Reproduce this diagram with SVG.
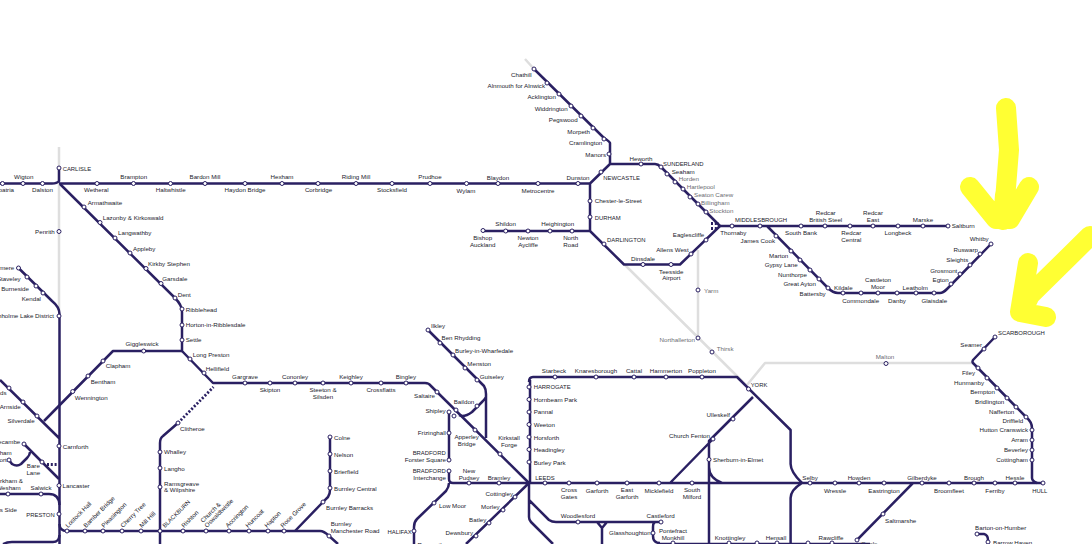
<svg xmlns="http://www.w3.org/2000/svg" width="1092" height="544" viewBox="0 0 1092 544">
<style>
text{font-family:"Liberation Sans",Arial,sans-serif;font-size:6.2px;fill:#22222c}
.e{text-anchor:end}.m{text-anchor:middle}
.c{font-size:5.9px}
text.g{fill:#6c6c72}
circle{fill:#fff;stroke:#2a2062;stroke-width:1;r:2px}
#connectors path{fill:none;stroke:#2a2062;stroke-width:2.5;stroke-linejoin:round}
#connectors path.grey{stroke:#dedede}
#connectors path.dot{stroke-width:2.8;stroke-dasharray:2 1.8}
#arrows path{fill:none;stroke:#ffff33;stroke-width:20;stroke-linecap:round;stroke-linejoin:round}
</style>
<rect width="1092" height="544" fill="#fff"/>
<g id="connectors">
<path class="grey" d="M59 147V310M525 59L534 69M625 265L747 386M698 250V338M747 385L765 363H973"/>
<path d="M0 183.500H52Q57 183.500 59 181V168M59 183.500H590V231M590 183.500L610 164V143Q609 141 604 138L534 69M610 164H655Q658 164 661 167L720 226M720 226L680 264.500H624L590 231H483"/>
<path d="M720 226H948M767 226L828 288Q833 293 838 293H940Q943 293 947 289L991 244"/>
<path d="M60 184L175 298Q182 305 182 312V351L213 383H425Q429 383 431 386L529 483"/>
<path d="M182 351H113L44 421"/>
<path d="M18.500 268L52 301Q59.500 307 59.500 314V544M0 380L59 438"/>
<path d="M24 444L59 479M30 452Q30 455 27 458L21 464Q17 467 12 464L9 460"/>
<path d="M0 494H49Q59 494 59.500 505M59.500 524Q59.500 531 67 531H320Q324 531 329 536L338 544M3 544Q7 542 12 542H53Q59 542 59.500 535"/>
<path d="M295 531L323 502L328 497Q330 494 330 490V437"/>
<path d="M160 544V443Q160 438 163 436L178 423"/>
<path class="dot" d="M178 423L213.500 387"/>
<path class="dot" d="M47 464.500H58M711 223.500H719M711 228.500H717"/>
<path d="M428 330L484 386Q486 389 486 394V438M486 397Q485 399 482 402L472 412Q467 416 462 416L459 415"/>
<path d="M449 412V460M449 471V479Q449 483 453 483H529M449 483Q449 487 446 491L417 519Q414 522 414 527V544M529 483L466 544"/>
<path d="M533 377H737L790.600 430V464Q790.600 472 802 483M530 380V483M533 377Q529 377 529 382"/>
<path d="M529 483H1043M670 483L713 439M753 397L709 441V544M709 467Q709 478 722 483M802 483Q790.600 490 790.600 498V544M913 483L857 540M659 544H870"/>
<path d="M529 483V517Q529 520 531 522L553 544M529 500L549 520Q552 522 556 522H661M597 522L602 528V544M607 522L602 528M656 522Q653 522 653 527V536Q653 543 660 543"/>
<path d="M995 337L973 360Q972 362 973 363L1026 417Q1032 422 1032 428V478Q1032 481 1037 483"/>
<path d="M977 534H984Q988 535 988 540V544"/>
</g>
<g id="n-aspatria"><circle cx="2.500" cy="183.500"/><text class="e" x="14" y="192">Aspatria</text></g>
<g id="n-wigton"><circle cx="23" cy="183.500"/><text class="m" x="23.700" y="179">Wigton</text></g>
<g id="n-dalston"><circle cx="42.500" cy="183.500"/><text class="m" x="42.500" y="192">Dalston</text></g>
<g id="n-carlisle"><circle cx="59" cy="168"/><text class="c" x="62.700" y="170.500">CARLISLE</text></g>
<g id="n-wetheral"><circle cx="97" cy="183.500"/><text class="m" x="96.300" y="192">Wetheral</text></g>
<g id="n-brampton"><circle cx="133.500" cy="183.500"/><text class="m" x="133.700" y="179">Brampton</text></g>
<g id="n-haltwhistle"><circle cx="170.500" cy="183.500"/><text class="m" x="170.700" y="192">Haltwhistle</text></g>
<g id="n-bardon-mill"><circle cx="205" cy="183.500"/><text class="m" x="205" y="179">Bardon Mill</text></g>
<g id="n-haydon-bridge"><circle cx="245" cy="183.500"/><text class="m" x="245" y="192">Haydon Bridge</text></g>
<g id="n-hexham"><circle cx="282" cy="183.500"/><text class="m" x="282" y="179">Hexham</text></g>
<g id="n-corbridge"><circle cx="318" cy="183.500"/><text class="m" x="318.500" y="192">Corbridge</text></g>
<g id="n-riding-mill"><circle cx="356" cy="183.500"/><text class="m" x="356" y="179">Riding Mill</text></g>
<g id="n-stocksfield"><circle cx="392" cy="183.500"/><text class="m" x="392" y="192">Stocksfield</text></g>
<g id="n-prudhoe"><circle cx="430" cy="183.500"/><text class="m" x="430" y="179">Prudhoe</text></g>
<g id="n-wylam"><circle cx="466.500" cy="183.500"/><text class="m" x="466" y="193">Wylam</text></g>
<g id="n-blaydon"><circle cx="498" cy="183.500"/><text class="m" x="498" y="179.500">Blaydon</text></g>
<g id="n-metrocentre"><circle cx="538" cy="183.500"/><text class="m" x="538" y="193">Metrocentre</text></g>
<g id="n-dunston"><circle cx="578" cy="183.500"/><text class="m" x="578" y="179.500">Dunston</text></g>
<g id="n-armathwaite"><circle cx="84" cy="207"/><text x="87.700" y="205">Armathwaite</text></g>
<g id="n-lazonby"><circle cx="100" cy="222.500"/><text x="102.700" y="220">Lazonby &amp; Kirkoswald</text></g>
<g id="n-langwathby"><circle cx="115" cy="238"/><text x="118" y="235">Langwathby</text></g>
<g id="n-appleby"><circle cx="130" cy="253"/><text x="133" y="251">Appleby</text></g>
<g id="n-kirkby-stephen"><circle cx="146" cy="268.500"/><text x="148" y="266">Kirkby Stephen</text></g>
<g id="n-garsdale"><circle cx="161" cy="283.500"/><text x="162.300" y="281">Garsdale</text></g>
<g id="n-dent"><circle cx="175" cy="298"/><text x="177.700" y="296.500">Dent</text></g>
<g id="n-ribblehead"><circle cx="182" cy="309"/><text x="185.700" y="311.500">Ribblehead</text></g>
<g id="n-horton"><circle cx="182" cy="325"/><text x="185.700" y="327">Horton-in-Ribblesdale</text></g>
<g id="n-settle"><circle cx="182" cy="340"/><text x="185.700" y="341.500">Settle</text></g>
<g id="n-penrith"><circle cx="59" cy="231.500"/><text class="e" x="54.700" y="233.500">Penrith</text></g>
<g id="n-windermere"><circle cx="18.500" cy="268"/><text class="e" x="14.300" y="270.300">Windermere</text></g>
<g id="n-staveley"><circle cx="27" cy="277"/><text class="e" x="20.700" y="281">Staveley</text></g>
<g id="n-burneside"><circle cx="36" cy="286"/><text class="e" x="29" y="291">Burneside</text></g>
<g id="n-kendal"><circle cx="43" cy="293"/><text class="e" x="41" y="301">Kendal</text></g>
<g id="n-oxenholme"><circle cx="59" cy="316"/><text class="e" x="54" y="318">Oxenholme Lake District</text></g>
<g id="n-giggleswick"><circle cx="143.700" cy="351"/><text class="m" x="142" y="345.500">Giggleswick</text></g>
<g id="n-clapham"><circle cx="103" cy="361"/><text x="105.700" y="368">Clapham</text></g>
<g id="n-bentham"><circle cx="88" cy="376"/><text x="90.700" y="384">Bentham</text></g>
<g id="n-wennington"><circle cx="72.700" cy="391.500"/><text x="74.700" y="399.500">Wennington</text></g>
<g id="n-grange"><circle cx="9" cy="388"/><text class="e" x="6.500" y="394.500">Grange-over-Sands</text></g>
<g id="n-arnside"><circle cx="23" cy="402"/><text class="e" x="20.700" y="409">Arnside</text></g>
<g id="n-silverdale"><circle cx="37" cy="416"/><text class="e" x="34.700" y="422.500">Silverdale</text></g>
<g id="n-carnforth"><circle cx="59" cy="446"/><text x="62.700" y="449">Carnforth</text></g>
<g id="n-morecambe"><circle cx="24" cy="444"/><text class="e" x="20.300" y="443.500">Morecambe</text></g>
<g id="n-heysham"><circle cx="9" cy="460"/><text class="e" x="11.700" y="455">Heysham</text><text class="e" x="6.700" y="462">Port</text></g>
<g id="n-bare-lane"><circle cx="42" cy="462"/><text class="m" x="33.300" y="468">Bare</text><text class="m" x="33.300" y="475">Lane</text></g>
<g id="n-lancaster"><circle cx="59" cy="485.500"/><text x="62.500" y="488">Lancaster</text></g>
<g id="n-kirkham"><circle cx="8" cy="494"/><text class="e" x="23" y="483">Kirkham &amp;</text><text class="e" x="20.700" y="489.500">Wesham</text></g>
<g id="n-salwick"><circle cx="41" cy="494"/><text class="m" x="41" y="489.500">Salwick</text></g>
<g id="n-moss-side"><text class="e" x="17" y="511.500">Moss Side</text></g>
<g id="n-preston"><circle cx="59" cy="514"/><text class="e c" x="54.700" y="516.500">PRESTON</text></g>
<g id="n-lostock-hall"><circle cx="67" cy="531"/><text transform="rotate(-45 68 528)" x="68" y="528">Lostock Hall</text></g>
<g id="n-bamber-bridge"><circle cx="85" cy="531"/><text transform="rotate(-45 86 528)" x="86" y="528">Bamber Bridge</text></g>
<g id="n-pleasington"><circle cx="103" cy="531"/><text transform="rotate(-45 104 528)" x="104" y="528">Pleasington</text></g>
<g id="n-cherry-tree"><circle cx="122" cy="531"/><text transform="rotate(-45 123 528)" x="123" y="528">Cherry Tree</text></g>
<g id="n-mill-hill"><circle cx="141" cy="531"/><text transform="rotate(-45 142 528)" x="142" y="528">Mill Hill</text></g>
<g id="n-blackburn"><circle cx="160" cy="531"/><text class="c" transform="rotate(-45 165 528)" x="165" y="528">BLACKBURN</text></g>
<g id="n-rishton"><circle cx="183" cy="531"/><text transform="rotate(-45 184 528)" x="184" y="528">Rishton</text></g>
<g id="n-church"><circle cx="206" cy="531"/><text transform="rotate(-45 203 523)" x="203" y="523">Church &amp;</text><text transform="rotate(-45 207 528)" x="207" y="528">Oswaldtwistle</text></g>
<g id="n-accrington"><circle cx="229" cy="531"/><text transform="rotate(-45 228 528)" x="228" y="528">Accrington</text></g>
<g id="n-huncoat"><circle cx="249" cy="531"/><text transform="rotate(-45 248 528)" x="248" y="528">Huncoat</text></g>
<g id="n-hapton"><circle cx="268" cy="531"/><text transform="rotate(-45 267 528)" x="267" y="528">Hapton</text></g>
<g id="n-rose-grove"><circle cx="284" cy="531"/><text transform="rotate(-45 283 528)" x="283" y="528">Rose Grove</text></g>
<g id="n-burnley-mr"><circle cx="329" cy="536"/><text x="330.700" y="526">Burnley</text><text x="330.700" y="533">Manchester Road</text></g>
<g id="n-burnley-barracks"><circle cx="323" cy="502"/><text x="326" y="509.500">Burnley Barracks</text></g>
<g id="n-burnley-central"><circle cx="330" cy="488"/><text x="334" y="490.500">Burnley Central</text></g>
<g id="n-brierfield"><circle cx="330" cy="471"/><text x="334" y="473.500">Brierfield</text></g>
<g id="n-nelson"><circle cx="330" cy="454"/><text x="334" y="456.500">Nelson</text></g>
<g id="n-colne"><circle cx="330" cy="437"/><text x="334" y="440">Colne</text></g>
<g id="n-gargrave"><circle cx="245" cy="383"/><text class="m" x="245" y="378.500">Gargrave</text></g>
<g id="n-skipton"><circle cx="270" cy="383"/><text class="m" x="270" y="392">Skipton</text></g>
<g id="n-cononley"><circle cx="295" cy="383"/><text class="m" x="295" y="378.500">Cononley</text></g>
<g id="n-steeton"><circle cx="323" cy="383"/><text class="m" x="323" y="392">Steeton &amp;</text><text class="m" x="323" y="398.500">Silsden</text></g>
<g id="n-keighley"><circle cx="351" cy="383"/><text class="m" x="351" y="378.500">Keighley</text></g>
<g id="n-crossflatts"><circle cx="381" cy="383"/><text class="m" x="381" y="392">Crossflatts</text></g>
<g id="n-bingley"><circle cx="406" cy="383"/><text class="m" x="406" y="378.500">Bingley</text></g>
<g id="n-long-preston"><circle cx="190" cy="359"/><text x="192.700" y="356.500">Long Preston</text></g>
<g id="n-hellifield"><circle cx="204" cy="373"/><text x="205.700" y="370.500">Hellifield</text></g>
<g id="n-clitheroe"><circle cx="178" cy="423"/><text x="180" y="430.500">Clitheroe</text></g>
<g id="n-whalley"><circle cx="160" cy="452"/><text x="164" y="454">Whalley</text></g>
<g id="n-langho"><circle cx="160" cy="468"/><text x="164" y="470.500">Langho</text></g>
<g id="n-ramsgreave"><circle cx="160" cy="487"/><text x="164" y="485.500">Ramsgreave</text><text x="164" y="492">&amp; Wilpshire</text></g>
<g id="n-ilkley"><circle cx="428" cy="330"/><text x="431" y="327.500">Ilkley</text></g>
<g id="n-ben-rhydding"><circle cx="440" cy="343"/><text x="441.500" y="340">Ben Rhydding</text></g>
<g id="n-burley"><circle cx="453" cy="355"/><text x="455" y="352.500">Burley-in-Wharfedale</text></g>
<g id="n-menston"><circle cx="465" cy="368"/><text x="467.300" y="365.500">Menston</text></g>
<g id="n-guiseley"><circle cx="477" cy="380"/><text x="479.700" y="378.500">Guiseley</text></g>
<g id="n-saltaire"><circle cx="437" cy="392"/><text class="e" x="435" y="397.500">Saltaire</text></g>
<g id="n-baildon"><circle cx="477" cy="406"/><text class="m" x="464" y="403.500">Baildon</text></g>
<g id="n-shipley"><circle cx="449" cy="412"/><circle cx="456" cy="410"/><circle cx="454" cy="416"/><text class="e" x="445.700" y="413">Shipley</text></g>
<g id="n-frizinghall"><circle cx="449" cy="433"/><text class="e" x="446" y="435">Frizinghall</text></g>
<g id="n-apperley"><circle cx="475" cy="430"/><text class="m" x="466.700" y="439">Apperley</text><text class="m" x="466.700" y="446">Bridge</text></g>
<g id="n-kirkstall"><circle cx="500" cy="454"/><text class="m" x="509" y="439.500">Kirkstall</text><text class="m" x="509" y="447">Forge</text></g>
<g id="n-bradford-fs"><circle cx="449" cy="460"/><text class="e c" x="445.700" y="455">BRADFORD</text><text class="e" x="446" y="462">Forster Square</text></g>
<g id="n-bradford-i"><circle cx="449" cy="471"/><text class="e c" x="445.700" y="472.500">BRADFORD</text><text class="e" x="446" y="479.500">Interchange</text></g>
<g id="n-new-pudsey"><circle cx="469" cy="483"/><text class="m" x="469" y="472.500">New</text><text class="m" x="469" y="479.500">Pudsey</text></g>
<g id="n-bramley"><circle cx="499" cy="483"/><text class="m" x="499" y="479.500">Bramley</text></g>
<g id="n-low-moor"><circle cx="434" cy="503"/><text x="439" y="508">Low Moor</text></g>
<g id="n-halifax"><circle cx="414" cy="531"/><text class="e c" x="411.700" y="533.500">HALIFAX</text></g>
<g id="n-cottingley"><circle cx="515" cy="497"/><text class="e" x="513" y="495.500">Cottingley</text></g>
<g id="n-morley"><circle cx="503" cy="510"/><text class="e" x="499.700" y="508.500">Morley</text></g>
<g id="n-batley"><circle cx="489" cy="523"/><text class="e" x="486.300" y="522">Batley</text></g>
<g id="n-dewsbury"><circle cx="476" cy="536"/><text class="e" x="473" y="534.500">Dewsbury</text></g>
<g id="n-ravensthorpe"><text class="e" x="456" y="546.500">Ravensthorpe</text></g>
<g id="n-harrogate"><circle cx="529" cy="387"/><text class="c" x="533.700" y="389.300">HARROGATE</text></g>
<g id="n-hornbeam"><circle cx="529" cy="399.500"/><text x="533.700" y="401.700">Hornbeam Park</text></g>
<g id="n-pannal"><circle cx="529" cy="412"/><text x="533.700" y="414.200">Pannal</text></g>
<g id="n-weeton"><circle cx="529" cy="424.500"/><text x="533.700" y="426.700">Weeton</text></g>
<g id="n-horsforth"><circle cx="529" cy="437"/><text x="533.700" y="440">Horsforth</text></g>
<g id="n-headingley"><circle cx="529" cy="449.500"/><text x="533.700" y="452">Headingley</text></g>
<g id="n-burley-park"><circle cx="529" cy="462"/><text x="533.700" y="464.500">Burley Park</text></g>
<g id="n-starbeck"><circle cx="555" cy="377"/><text class="m" x="554" y="372.500">Starbeck</text></g>
<g id="n-knaresborough"><circle cx="596" cy="377"/><text class="m" x="596" y="372.500">Knaresborough</text></g>
<g id="n-cattal"><circle cx="634" cy="377"/><text class="m" x="634" y="372.500">Cattal</text></g>
<g id="n-hammerton"><circle cx="666" cy="377"/><text class="m" x="666" y="372.500">Hammerton</text></g>
<g id="n-poppleton"><circle cx="702" cy="377"/><text class="m" x="702" y="372.500">Poppleton</text></g>
<g id="n-leeds"><circle cx="545" cy="483"/><text class="m c" x="545" y="479.500">LEEDS</text></g>
<g id="n-cross-gates"><circle cx="569" cy="483"/><text class="m" x="569" y="492">Cross</text><text class="m" x="569" y="499">Gates</text></g>
<g id="n-garforth"><circle cx="597" cy="483"/><text class="m" x="597" y="492.500">Garforth</text></g>
<g id="n-east-garforth"><circle cx="627" cy="483"/><text class="m" x="627" y="492">East</text><text class="m" x="627" y="499">Garforth</text></g>
<g id="n-micklefield"><circle cx="659" cy="483"/><text class="m" x="659" y="492.500">Micklefield</text></g>
<g id="n-south-milford"><circle cx="692" cy="483"/><text class="m" x="692" y="492">South</text><text class="m" x="692" y="499">Milford</text></g>
<g id="n-church-fenton"><circle cx="713" cy="439"/><text class="e" x="710" y="437.500">Church Fenton</text></g>
<g id="n-ulleskelf"><circle cx="733" cy="419"/><text class="e" x="730" y="417">Ulleskelf</text></g>
<g id="n-sherburn"><circle cx="709" cy="459.500"/><text x="713" y="462">Sherburn-in-Elmet</text></g>
<g id="n-york"><circle cx="748.500" cy="389"/><text class="c" x="750.700" y="386.500">YORK</text></g>
<g id="n-selby"><circle cx="810" cy="483"/><text class="m" x="810" y="479.500">Selby</text></g>
<g id="n-wressle"><circle cx="835" cy="483"/><text class="m" x="835" y="492.500">Wressle</text></g>
<g id="n-howden"><circle cx="859" cy="483"/><text class="m" x="859" y="479.500">Howden</text></g>
<g id="n-eastrington"><circle cx="884" cy="483"/><text class="m" x="884" y="492.500">Eastrington</text></g>
<g id="n-gilberdyke"><circle cx="922" cy="483"/><text class="m" x="922" y="479.500">Gilberdyke</text></g>
<g id="n-broomfleet"><circle cx="949" cy="483"/><text class="m" x="949" y="492.500">Broomfleet</text></g>
<g id="n-brough"><circle cx="974" cy="483"/><text class="m" x="974" y="479.500">Brough</text></g>
<g id="n-ferriby"><circle cx="995" cy="483"/><text class="m" x="995" y="492.500">Ferriby</text></g>
<g id="n-hessle"><circle cx="1015" cy="483"/><text class="m" x="1015" y="479.500">Hessle</text></g>
<g id="n-hull"><circle cx="1043" cy="483"/><text class="m c" x="1039.700" y="492.500">HULL</text></g>
<g id="n-saltmarshe"><circle cx="883" cy="514"/><text x="885" y="522.500">Saltmarshe</text></g>
<g id="n-goole"><circle cx="857" cy="540"/><text x="861" y="546">Goole</text></g>
<g id="n-thirsk"><circle cx="712" cy="352"/><text class="g" x="716.700" y="351">Thirsk</text></g>
<g id="n-northallerton"><circle cx="698" cy="338"/><text class="e g" x="695" y="342">Northallerton</text></g>
<g id="n-yarm"><circle cx="698" cy="290"/><text class="g" x="704" y="292.500">Yarm</text></g>
<g id="n-malton"><circle cx="886" cy="363.500"/><text class="m g" x="885" y="359">Malton</text></g>
<g id="n-scarborough"><circle cx="995" cy="337"/><text class="c" x="998" y="335">SCARBOROUGH</text></g>
<g id="n-seamer"><circle cx="984" cy="349"/><text class="e" x="982" y="346.500">Seamer</text></g>
<g id="n-filey"><circle cx="978" cy="368"/><text class="e" x="975" y="374.500">Filey</text></g>
<g id="n-hunmanby"><circle cx="987" cy="378"/><text class="e" x="984" y="384.500">Hunmanby</text></g>
<g id="n-bempton"><circle cx="997" cy="388"/><text class="e" x="995" y="394">Bempton</text></g>
<g id="n-bridlington"><circle cx="1007" cy="398"/><text class="e" x="1004.300" y="403.500">Bridlington</text></g>
<g id="n-nafferton"><circle cx="1016" cy="407"/><text class="e" x="1014.300" y="413.500">Nafferton</text></g>
<g id="n-driffield"><circle cx="1026" cy="417"/><text class="e" x="1023.300" y="423">Driffield</text></g>
<g id="n-hutton"><circle cx="1032" cy="430"/><text class="e" x="1028" y="432">Hutton Cranswick</text></g>
<g id="n-arram"><circle cx="1032" cy="440"/><text class="e" x="1028" y="442">Arram</text></g>
<g id="n-beverley"><circle cx="1032" cy="450"/><text class="e" x="1028" y="452">Beverley</text></g>
<g id="n-cottingham"><circle cx="1032" cy="460"/><text class="e" x="1028" y="462">Cottingham</text></g>
<g id="n-barton"><circle cx="977" cy="534"/><text class="m" x="1000.700" y="529.500">Barton-on-Humber</text></g>
<g id="n-barrow"><circle cx="988" cy="542"/><text x="993" y="545">Barrow Haven</text></g>
<g id="n-rawcliffe"><circle cx="832" cy="543"/><text class="m" x="831" y="540">Rawcliffe</text></g>
<g id="n-snaith"><circle cx="808" cy="543"/></g>
<g id="n-hensall"><circle cx="777" cy="543"/><text class="m" x="776" y="540">Hensall</text></g>
<g id="n-whitley"><circle cx="757" cy="543"/></g>
<g id="n-knottingley"><circle cx="729" cy="543"/><text class="m" x="730" y="540">Knottingley</text></g>
<g id="n-pontefract"><circle cx="673" cy="543"/><text class="m" x="673" y="533">Pontefract</text><text class="m" x="673" y="540">Monkhill</text></g>
<g id="n-glasshoughton"><circle cx="653" cy="533"/><text class="e" x="650.700" y="535">Glasshoughton</text></g>
<g id="n-castleford"><circle cx="661" cy="522"/><text class="m" x="660.700" y="518">Castleford</text></g>
<g id="n-woodlesford"><circle cx="578" cy="522"/><text class="m" x="578" y="518">Woodlesford</text></g>
<g id="n-chathill"><circle cx="534" cy="69"/><text class="e" x="531.700" y="76.500">Chathill</text></g>
<g id="n-alnmouth"><circle cx="547" cy="83"/><text class="e" x="545" y="88">Alnmouth for Alnwick</text></g>
<g id="n-acklington"><circle cx="559" cy="94"/><text class="e" x="556" y="99">Acklington</text></g>
<g id="n-widdrington"><circle cx="571" cy="106"/><text class="e" x="567.700" y="110.500">Widdrington</text></g>
<g id="n-pegswood"><circle cx="581" cy="116"/><text class="e" x="577.700" y="122">Pegswood</text></g>
<g id="n-morpeth"><circle cx="593" cy="128"/><text class="e" x="590" y="133.500">Morpeth</text></g>
<g id="n-cramlington"><circle cx="604" cy="139"/><text class="e" x="602.300" y="145">Cramlington</text></g>
<g id="n-manors"><circle cx="609" cy="154"/><text class="e" x="606" y="156.500">Manors</text></g>
<g id="n-heworth"><circle cx="641" cy="164"/><text class="m" x="641" y="160.500">Heworth</text></g>
<g id="n-sunderland"><circle cx="661" cy="167"/><text class="c" x="663" y="165.500">SUNDERLAND</text></g>
<g id="n-seaham"><circle cx="667" cy="174"/><text x="671.700" y="173.500">Seaham</text></g>
<g id="n-horden"><circle cx="675" cy="182"/><text class="g" x="678.700" y="181">Horden</text></g>
<g id="n-hartlepool"><circle cx="683" cy="189"/><text class="g" x="686.700" y="189">Hartlepool</text></g>
<g id="n-seaton"><circle cx="690" cy="197"/><text class="g" x="694" y="196.500">Seaton Carew</text></g>
<g id="n-billingham"><circle cx="698" cy="204"/><text class="g" x="701" y="204.500">Billingham</text></g>
<g id="n-stockton"><circle cx="706" cy="212"/><text class="g" x="709.300" y="212.500">Stockton</text></g>
<g id="n-newcastle"><circle cx="601" cy="172"/><text class="c" x="603.300" y="179.500">NEWCASTLE</text></g>
<g id="n-chester"><circle cx="590" cy="201"/><text x="594.700" y="203">Chester-le-Street</text></g>
<g id="n-durham"><circle cx="590" cy="217"/><text class="c" x="594.700" y="219.500">DURHAM</text></g>
<g id="n-bishop"><circle cx="483" cy="230.500"/><text class="m" x="482.700" y="240">Bishop</text><text class="m" x="482.700" y="246.500">Auckland</text></g>
<g id="n-shildon"><circle cx="505.700" cy="231"/><text class="m" x="505.700" y="226">Shildon</text></g>
<g id="n-aycliffe"><circle cx="528" cy="231"/><text class="m" x="528" y="240">Newton</text><text class="m" x="528" y="246.500">Aycliffe</text></g>
<g id="n-heighington"><circle cx="550" cy="231"/><text class="m" x="557.700" y="226">Heighington</text></g>
<g id="n-north-road"><circle cx="572" cy="231"/><text class="m" x="570.700" y="240">North</text><text class="m" x="570.700" y="246.500">Road</text></g>
<g id="n-darlington"><circle cx="604" cy="244"/><text class="c" x="607" y="241.500">DARLINGTON</text></g>
<g id="n-dinsdale"><circle cx="643" cy="264.500"/><text class="m" x="643" y="260.500">Dinsdale</text></g>
<g id="n-teesside"><circle cx="671" cy="264.500"/><text class="m" x="671.300" y="273.500">Teesside</text><text class="m" x="671.300" y="280">Airport</text></g>
<g id="n-allens-west"><circle cx="691" cy="254"/><text class="e" x="688.700" y="251.500">Allens West</text></g>
<g id="n-eaglescliffe"><circle cx="706" cy="240"/><text class="e" x="704.300" y="237">Eaglescliffe</text></g>
<g id="n-thornaby"><circle cx="732" cy="226"/><text class="m" x="733.300" y="234.500">Thornaby</text></g>
<g id="n-middlesbrough"><circle cx="760" cy="226"/><text class="m c" x="761" y="221.500">MIDDLESBROUGH</text></g>
<g id="n-south-bank"><circle cx="801" cy="226"/><text class="m" x="801" y="234.500">South Bank</text></g>
<g id="n-british-steel"><circle cx="825" cy="226"/><text class="m" x="825.700" y="214.500">Redcar</text><text class="m" x="825.700" y="221.500">British Steel</text></g>
<g id="n-redcar-central"><circle cx="850" cy="226"/><text class="m" x="851.300" y="234.500">Redcar</text><text class="m" x="851.300" y="241.500">Central</text></g>
<g id="n-redcar-east"><circle cx="873" cy="226"/><text class="m" x="873" y="214.500">Redcar</text><text class="m" x="873" y="221.500">East</text></g>
<g id="n-longbeck"><circle cx="898" cy="226"/><text class="m" x="898" y="234.500">Longbeck</text></g>
<g id="n-marske"><circle cx="923" cy="226"/><text class="m" x="923" y="221.500">Marske</text></g>
<g id="n-saltburn"><circle cx="948" cy="226"/><text x="951.700" y="228">Saltburn</text></g>
<g id="n-james-cook"><circle cx="776" cy="236"/><text class="e" x="775" y="243">James Cook</text></g>
<g id="n-marton"><circle cx="791" cy="251"/><text class="e" x="788.300" y="257.500">Marton</text></g>
<g id="n-gypsy-lane"><circle cx="800" cy="260"/><text class="e" x="797.700" y="267">Gypsy Lane</text></g>
<g id="n-nunthorpe"><circle cx="810" cy="270"/><text class="e" x="807" y="276.500">Nunthorpe</text></g>
<g id="n-great-ayton"><circle cx="819" cy="279"/><text class="e" x="816" y="286">Great Ayton</text></g>
<g id="n-battersby"><circle cx="828" cy="288"/><text class="e" x="825.700" y="295.500">Battersby</text></g>
<g id="n-kildale"><circle cx="843" cy="293"/><text x="834" y="289.500">Kildale</text></g>
<g id="n-commondale"><circle cx="861" cy="293"/><text class="m" x="860.700" y="302.500">Commondale</text></g>
<g id="n-castleton"><circle cx="878" cy="293"/><text class="m" x="878" y="281.500">Castleton</text><text class="m" x="878" y="289">Moor</text></g>
<g id="n-danby"><circle cx="897" cy="293"/><text class="m" x="897" y="302.500">Danby</text></g>
<g id="n-leatholm"><circle cx="916" cy="293"/><text class="m" x="915.300" y="289.500">Leatholm</text></g>
<g id="n-glaisdale"><circle cx="934" cy="293"/><text class="m" x="934.300" y="302.500">Glaisdale</text></g>
<g id="n-egton"><circle cx="951" cy="284"/><text class="e" x="948.700" y="281.500">Egton</text></g>
<g id="n-grosmont"><circle cx="960" cy="274"/><text class="e" x="957.300" y="272.500">Grosmont</text></g>
<g id="n-sleights"><circle cx="970" cy="265"/><text class="e" x="968.300" y="262">Sleights</text></g>
<g id="n-ruswarp"><circle cx="980" cy="254"/><text class="e" x="978" y="251.500">Ruswarp</text></g>
<g id="n-whitby"><circle cx="991" cy="244"/><text class="e" x="988.700" y="240.500">Whitby</text></g>
<g id="arrows">
<path d="M1006 108L1009 150L1005 200L1003 220M970 187L996 219L1010 219L1029 187M1005 195L1003 220"/>
<path d="M1090 236L1030 295L1022 312M1028 263L1020 312L1046 317M1031 290L1024 310"/>
</g>
</svg>
